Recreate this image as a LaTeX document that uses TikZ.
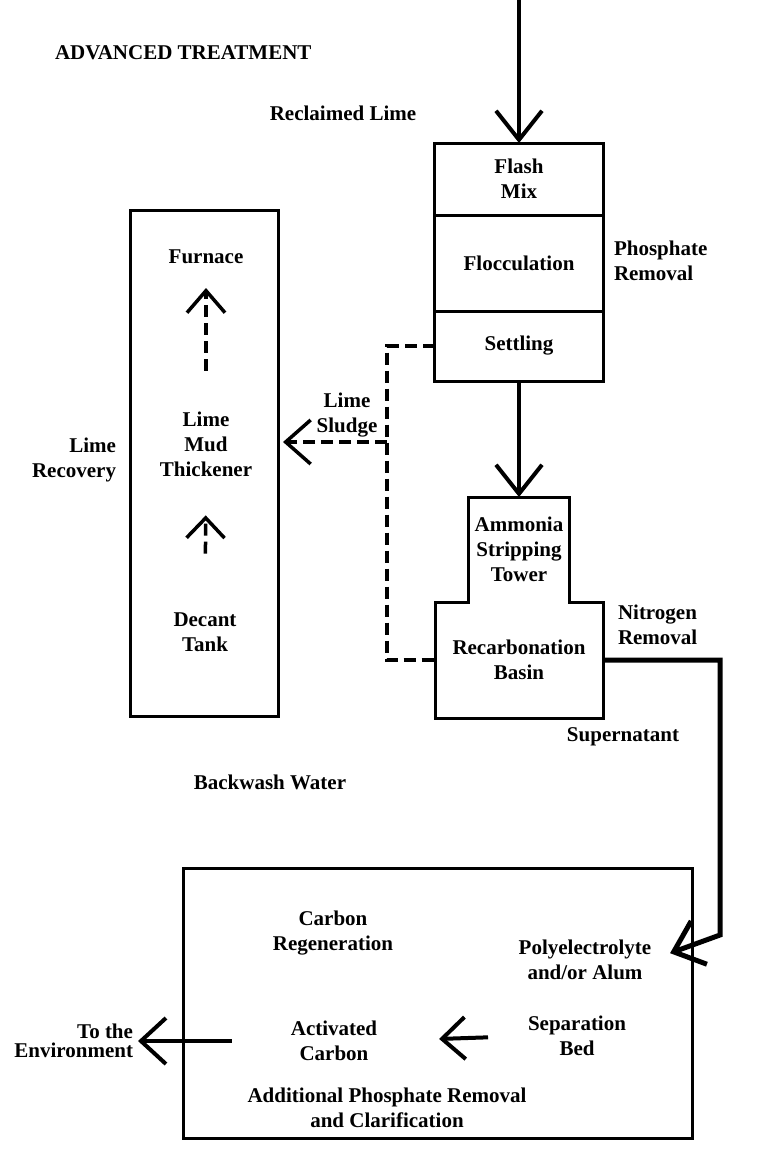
\documentclass[tikz,border=0pt]{standalone}
\usepackage{fontspec}
\setmainfont{Liberation Serif}
\usetikzlibrary{arrows.meta}

\begin{document}
\begin{tikzpicture}[
	x=1pt, y=-1pt,
	every node/.style={
		font=\fontsize{21}{25}\selectfont\bfseries,
		align=center, inner sep=0pt, outer sep=0pt
	},
	block/.style={
		rectangle, draw=black, line width=3pt
	},
	line/.style={draw, line width=4pt, -{Straight Barb[length=29pt, width=46pt]}},
	dline/.style={draw, line width=3.5pt, dash pattern=on 12pt off 6pt},
	dtip/.style={dline, -{Straight Barb[length=22pt, width=38pt]}},
	]
	\useasboundingbox (0,0) rectangle (764,1163);

	\node [anchor=west] (title) at (55,53) {ADVANCED TREATMENT};
	\node (reclaimed) at (343,113) {Reclaimed Lime};

	\node [block, minimum width=169pt, minimum height=72pt] (flash) at (519,179) {Flash\\Mix};
	\node [block, minimum width=169pt, minimum height=96pt] (floc) at (519,263) {Flocculation};
	\node [block, minimum width=169pt, minimum height=70pt] (settle) at (519,346) {Settling};
	\node [anchor=west, align=left] (phos) at (614,261) {Phosphate\\Removal};

	\node [minimum width=101pt, minimum height=105pt] (tower) at (519,549.5) {Ammonia\\Stripping\\Tower};
	\node [minimum width=168pt, minimum height=116pt] (basin) at (519,660) {Recarbonation\\Basin};
	\draw [line width=3pt] (tower.north west) -- (tower.north east) -- (tower.south east)
		-- (basin.north east) -- (basin.south east) -- (basin.south west)
		-- (basin.north west) -- (tower.south west) -- cycle;
	\node [anchor=west, align=left] (nitro) at (618,625) {Nitrogen\\Removal};
	\node (super) at (623,737) {Supernatant};

	\node [block, minimum width=148pt, minimum height=506pt] (lime) at (204,463) {};
	\node (furnace) at (206,257) {Furnace};
	\node (thick) at (206,444) {Lime\\Mud\\Thickener};
	\node (decant) at (205,632) {Decant\\Tank};
	\node [anchor=east, align=right] (recov) at (116,460) {Lime\\Recovery};
	\node (sludge) at (347,415) {Lime\\Sludge};

	\node (backwash) at (270,782) {Backwash Water};

	\node [block, minimum width=509pt, minimum height=270pt] (tert) at (437.5,1003) {};
	\node (carbreg) at (333,933) {Carbon\\Regeneration};
	\node (poly) at (585,960) {Polyelectrolyte\\and/or Alum};
	\node (sepbed) at (577,1036) {Separation\\Bed};
	\node (actcarb) at (334,1041) {Activated\\Carbon};
	\node (addp) at (387,1108) {Additional Phosphate Removal\\and Clarification};
	\node [anchor=east, align=right, font=\fontsize{21}{19}\selectfont\bfseries] (env) at (133,1041) {To the\\Environment};

	\coordinate (in) at (519,0);
	\coordinate (jtop) at (387,346);
	\coordinate (jmid) at (387,442);
	\coordinate (jbot) at (387,660);
	\coordinate (sr) at (720,660);
	\coordinate (sd) at (720,935);

	\path [line] (in) -- (flash.north);
	\path [line] (settle.south) -- (tower.north);
	\path [dline] (settle.west) -- (jtop) -- (jbot) -- (basin.west);
	\path [dtip, -{Straight Barb[length=25pt, width=44pt]}, shorten >=5pt] (jmid) -- (jmid -| lime.east);
	\path [dtip, shorten <=41pt, shorten >=24pt] (thick.north) -- (furnace.south);
	\path [dtip, -{Straight Barb[length=20pt, width=38pt]}, shorten <=59pt, shorten >=39pt] (decant.north) -- (thick.south);
	\path [line, line width=5pt, -{Straight Barb[length=27pt, width=46pt]}, shorten >=20pt] (basin.east) -- (sr) -- (sd) -- (poly.east);
	\path [line, -{Straight Barb[length=23pt, width=42pt]}, shorten <=40pt, shorten >=62pt] (sepbed.west) -- (actcarb.east);
	\path [line, -{Straight Barb[length=25pt, width=46pt]}, shorten <=59pt, shorten >=5pt] (actcarb.west) -- (env.east);
\end{tikzpicture}
\end{document}
